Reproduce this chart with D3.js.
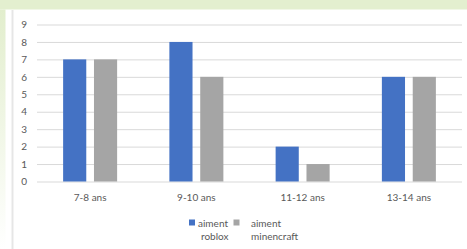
<!DOCTYPE html>
<html>
<head>
<meta charset="utf-8">
<script src="https://cdn.jsdelivr.net/npm/d3@7"></script>
<style>
  body { margin: 0; background: #fff; }
  svg text { font-family: Lato, "Open Sans", sans-serif; fill: #595959; }
</style>
</head>
<body>
<div id="chart"></div>
<script>
// data
const categories = ['7-8 ans', '9-10 ans', '11-12 ans', '13-14 ans'];
const aimentRoblox = [7, 8, 2, 6];
const aimentMinecraft = [7, 6, 1, 6];
const seriesNames = ['aiment roblox', 'aiment minencraft'];
const yTicks = [0, 1, 2, 3, 4, 5, 6, 7, 8, 9];

const W = 467, H = 249;
const colors = ['#4472C4', '#A5A5A5'];
const fontSize = 10;

const svg = d3.select('#chart').append('svg')
  .attr('width', W)
  .attr('height', H);

// page background: green band on top and left, white sheet
svg.append('rect').attr('width', W).attr('height', H).attr('fill', '#ffffff');
const grad = svg.append('defs').append('linearGradient')
  .attr('id', 'leftg').attr('x1', 0).attr('y1', 0).attr('x2', 0).attr('y2', 1);
grad.append('stop').attr('offset', 0).attr('stop-color', '#e2eecd');
grad.append('stop').attr('offset', 1).attr('stop-color', '#ffffff');
svg.append('rect').attr('x', 0).attr('y', 0).attr('width', W).attr('height', 9.5).attr('fill', '#e3efcf');
svg.append('rect').attr('x', 0).attr('y', 9.5).attr('width', 5.5).attr('height', H - 9.5).attr('fill', 'url(#leftg)');
svg.append('line')
  .attr('x1', 12.5).attr('x2', 12.5).attr('y1', 10).attr('y2', H)
  .attr('stroke', '#e6e6e6').attr('stroke-width', 2);

const plot = { left: 37, right: 462, top: 24.5, bottom: 181.5 };

const y = d3.scaleLinear().domain([0, 9]).range([plot.bottom, plot.top]);
const x = d3.scaleBand().domain(categories).range([plot.left, plot.right]).padding(0);
const xSub = d3.scaleBand().domain(seriesNames).range([-27, 27]).paddingInner(0.25);

// gridlines + y labels
const yAxis = d3.axisLeft(y)
  .tickValues(yTicks)
  .tickSize(-(plot.right - plot.left))
  .tickPadding(10)
  .tickFormat(d3.format('d'));
const gy = svg.append('g').attr('transform', `translate(${plot.left},0)`).call(yAxis);
gy.select('.domain').remove();
gy.selectAll('line').attr('stroke', '#d9d9d9').attr('stroke-width', 1);
gy.selectAll('text').attr('font-size', fontSize).attr('fill', '#595959');

// bars
const rows = categories.map((c, i) => ({ cat: c, vals: [aimentRoblox[i], aimentMinecraft[i]] }));
const groups = svg.append('g').selectAll('g').data(rows).join('g')
  .attr('transform', d => `translate(${x(d.cat) + x.bandwidth() / 2},0)`);
groups.selectAll('rect')
  .data(d => d.vals.map((v, j) => ({ name: seriesNames[j], v, j })))
  .join('rect')
  .attr('x', d => xSub(d.name))
  .attr('width', xSub.bandwidth())
  .attr('y', d => y(d.v))
  .attr('height', d => y(0) - y(d.v))
  .attr('fill', d => colors[d.j]);

// category axis
const xAxis = d3.axisBottom(x).tickSize(0).tickPadding(12);
const gx = svg.append('g').attr('transform', `translate(0,${plot.bottom})`).call(xAxis);
gx.select('.domain').remove();
gx.selectAll('text').attr('font-size', fontSize).attr('fill', '#595959');

// legend (wrapped on two lines)
const legend = [
  { lines: ['aiment', 'roblox'], sx: 189, tx: 198, tx2: 201 },
  { lines: ['aiment', 'minencraft'], sx: 233.5, tx: 251, tx2: 251 }
];
const lg = svg.append('g');
legend.forEach((item, i) => {
  lg.append('rect')
    .attr('x', item.sx).attr('y', 219.5)
    .attr('width', 6).attr('height', 6)
    .attr('fill', colors[i]);
  lg.append('text').attr('x', item.tx).attr('y', 226.5)
    .attr('font-size', fontSize).text(item.lines[0]);
  lg.append('text').attr('x', item.tx2).attr('y', 240)
    .attr('font-size', fontSize).text(item.lines[1]);
});
</script>
</body>
</html>
